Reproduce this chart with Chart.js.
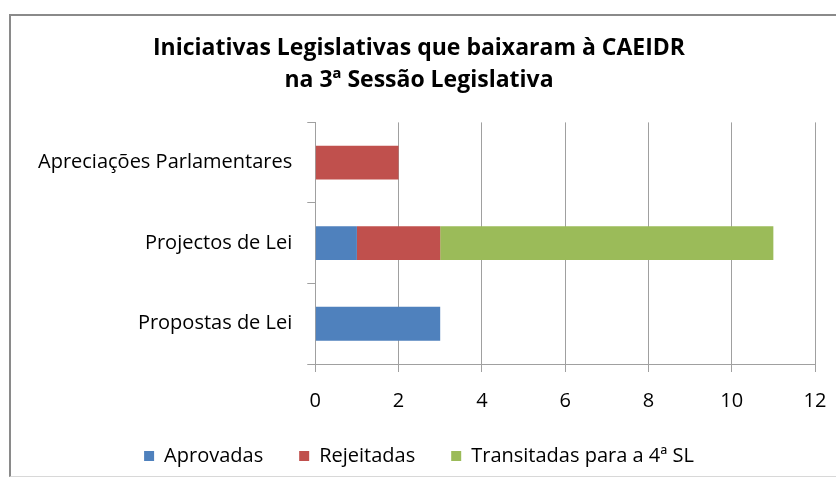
<!DOCTYPE html>
<html>
<head>
<meta charset="utf-8">
<script src="https://cdn.jsdelivr.net/npm/chart.js@4/dist/chart.umd.min.js"></script>
<style>
  body { margin: 0; background: #fff; }
  #box {
    position: absolute; left: 9px; top: 14px; width: 827px; height: 460px; overflow: hidden;
    border-left: 2px solid #8a8a8a; border-top: 2px solid #8a8a8a;
    border-bottom: 1px solid #d8d8d8;
  }
</style>
</head>
<body>
<div id="box"><canvas id="myChart" width="827" height="460"></canvas></div>
<script>
var categories = ["Apreciações Parlamentares", "Projectos de Lei", "Propostas de Lei"];
var aprovadas = [0, 1, 3];
var rejeitadas = [2, 2, 0];
var transitadas = [0, 8, 0];
var seriesNames = ["Aprovadas", "Rejeitadas", "Transitadas para a 4ª SL"];
var seriesColors = ["#4F81BD", "#C0504D", "#9BBB59"];
var titleLines = ["Iniciativas Legislativas que baixaram à CAEIDR", "na 3ª Sessão Legislativa"];

Chart.defaults.font.family = "'Open Sans', 'Liberation Sans', sans-serif";
Chart.defaults.color = "#000";

new Chart("myChart", {
    type: "bar",
    data: {
        labels: categories,
        datasets: [aprovadas, rejeitadas, transitadas].map(function (d, i) {
            return {
                label: seriesNames[i],
                data: d,
                backgroundColor: seriesColors[i],
                barPercentage: 0.42,
                categoryPercentage: 1
            };
        })
    },
    options: {
        indexAxis: "y",
        responsive: false,
        animation: false,
        layout: { padding: { left: 12, right: 23, top: 12, bottom: 0 } },
        scales: {
            x: {
                stacked: true, min: 0, max: 12,
                ticks: { stepSize: 2, padding: 17, font: { size: 20 } },
                grid: { color: "#a0a0a0", tickLength: 8, lineWidth: 1 },
                border: { color: "#a0a0a0" },
                afterFit: function (axis) { axis.height = 46; axis.paddingRight = 0; }
            },
            y: {
                stacked: true,
                ticks: { padding: 15, font: { size: 20 } },
                grid: { drawOnChartArea: false, color: "#a0a0a0", tickLength: 8 },
                border: { color: "#a0a0a0" }
            }
        },
        plugins: {
            title: {
                display: true, text: titleLines, color: "#000",
                font: { size: 23, weight: "bold", lineHeight: 1.4 }, padding: { top: 4, bottom: 26 }
            },
            legend: {
                position: "bottom",
                labels: { boxWidth: 10, boxHeight: 10, padding: 36, font: { size: 20 } }
            },
            tooltip: { enabled: false }
        }
    }
});
</script>
</body>
</html>
